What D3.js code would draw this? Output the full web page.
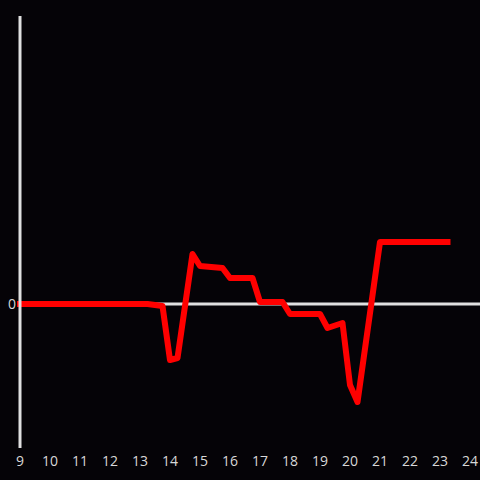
<!DOCTYPE html>
<html>
<head>
<meta charset="utf-8">
<script src="https://cdn.jsdelivr.net/npm/d3@7"></script>
<style>
  html, body { margin: 0; padding: 0; background: #050307; }
  svg { display: block; }
</style>
</head>
<body>
<svg id="chart" width="480" height="480"></svg>
<script>
// Time of day (hours) and values (arbitrary units)
const hours  = [9, 13.25, 13.75, 14, 14.25, 14.75, 15, 15.75, 16, 16.75, 17, 17.75, 18, 19, 19.25, 19.75, 20, 20.25, 21, 23.25];
const values = [0, 0, -2, -56, -54, 50, 38, 36, 26, 26, 2, 2, -10, -10, -24, -19, -81, -98, 62, 62];
const xTicks = [9, 10, 11, 12, 13, 14, 15, 16, 17, 18, 19, 20, 21, 22, 23, 24];
const yTicks = [0];

const svg = d3.select("#chart");
const W = 480, H = 480;
svg.append("rect").attr("width", W).attr("height", H).attr("fill", "#050307");

const x = d3.scaleLinear().domain([9, 24]).range([20, 470]);
const y = d3.scaleLinear().domain([-144, 288]).range([448, 16]);

const data = hours.map((h, i) => ({ h, v: values[i] }));

// line
svg.append("path")
  .datum(data)
  .attr("fill", "none")
  .attr("stroke", "#ff0000")
  .attr("stroke-width", 6)
  .attr("stroke-linejoin", "round")
  .attr("stroke-linecap", "square")
  .attr("d", d3.line().x(d => x(d.h)).y(d => y(d.v)));

// zero line (x axis) - drawn only where not covered; drawn beneath line? line covers it
svg.insert("line", "path")
  .attr("x1", x(9)).attr("x2", W)
  .attr("y1", y(0)).attr("y2", y(0))
  .attr("stroke", "#e0e0e0").attr("stroke-width", 3);

// y axis line
svg.append("line")
  .attr("x1", x(9)).attr("x2", x(9))
  .attr("y1", y(288)).attr("y2", y(-144))
  .attr("stroke", "#e0e0e0").attr("stroke-width", 3);

// x tick labels
svg.append("g").selectAll("text")
  .data(xTicks).join("text")
  .attr("x", d => x(d))
  .attr("y", 466)
  .attr("text-anchor", "middle")
  .attr("fill", "#d8d8d8")
  .attr("font-family", "Open Sans, sans-serif")
  .attr("font-size", 14)
  .text(d => d);

// y tick labels
svg.append("g").selectAll("text")
  .data(yTicks).join("text")
  .attr("x", 16)
  .attr("y", d => y(d))
  .attr("dy", "0.35em")
  .attr("text-anchor", "end")
  .attr("fill", "#d8d8d8")
  .attr("font-family", "Open Sans, sans-serif")
  .attr("font-size", 14)
  .text(d => d);
</script>
</body>
</html>
